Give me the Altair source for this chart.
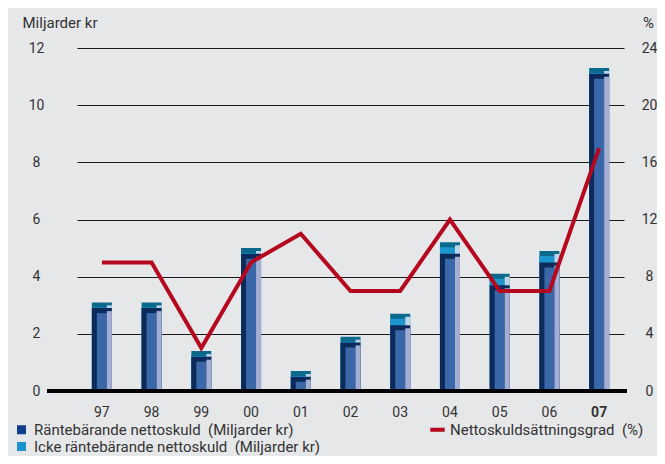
import altair as alt
import pandas as pd

years = ["97", "98", "99", "00", "01", "02", "03", "04", "05", "06", "07"]
rante = [2.9, 2.9, 1.2, 4.8, 0.5, 1.7, 2.3, 4.8, 3.7, 4.5, 11.1]
icke = [0.2, 0.2, 0.2, 0.2, 0.2, 0.2, 0.4, 0.4, 0.4, 0.4, 0.2]
netto = [9, 9, 3, 9, 11, 7, 7, 12, 7, 7, 17]

left_ticks = [0, 2, 4, 6, 8, 10, 12]
right_ticks = [0, 4, 8, 12, 16, 20, 24]

series_names = [
    "Räntebärande nettoskuld\u00a0 (Miljarder kr)",
    "Icke räntebärande nettoskuld\u00a0 (Miljarder kr)",
    "Nettoskuldsättningsgrad\u00a0 (%)",
]
series_colors = ["#0d3f8a", "#1a95cb", "#b5081f"]

FONT = "Roboto"
TXT = "#333333"
D = 0.175  # 3D top-face depth in data units

df = pd.DataFrame({"year": years, "rante": rante, "icke": icke, "netto": netto})

base = alt.Chart(df).transform_calculate(
    total="datum.rante + datum.icke",
    total_front=f"datum.rante + datum.icke - {D}",
    total_side=f"datum.rante + datum.icke - {D * 0.6}",
    rante_front=f"datum.rante - {D}",
    rante_side=f"datum.rante - {D * 0.6}",
)

xenc = alt.X(
    "year:N",
    sort=years,
    scale=alt.Scale(domain=years, range=[30, 577], paddingInner=0, paddingOuter=0),
    axis=alt.Axis(
        title=None, domain=False, ticks=False, tickSize=0, labelPadding=14,
        labelFont=FONT, labelFontSize=14, labelColor=TXT, labelAngle=0,
        labelFontWeight={"condition": {"test": "datum.value == '07'", "value": "bold"}, "value": "normal"},
    ),
)


def yscale():
    return alt.Scale(domain=[0, 12], nice=False, zero=True)


left_axis = alt.Axis(
    values=left_ticks, grid=True, gridColor="#1a1a1a", gridWidth=1, gridOpacity=1,
    domain=False, ticks=False, tickSize=0, labelPadding=11, labelAlign="center",
    labelFont=FONT, labelFontSize=14, labelColor=TXT,
    title="Miljarder kr", titleAngle=0, titleAlign="left", titleBaseline="alphabetic",
    titleX=-25, titleY=-21, titleFont=FONT, titleFontSize=15, titleFontWeight="normal", titleColor=TXT,
)


def bar(field, color, size, xoff, axis=None):
    return base.mark_bar(size=size, color=color, xOffset=xoff).encode(
        x=xenc, y=alt.Y(f"{field}:Q", scale=yscale(), axis=axis)
    )


zero_rule = base.mark_rule(color="black", strokeWidth=4).encode(
    y=alt.YDatum(datum=0, scale=yscale(), axis=None)
)

line = base.mark_line(color="#b5081f", strokeWidth=4, strokeJoin="miter").encode(
    x=xenc,
    y=alt.Y(
        "netto:Q",
        scale=alt.Scale(domain=[0, 24], nice=False),
        axis=alt.Axis(
            orient="right", values=right_ticks, grid=False, domain=False, ticks=False, tickSize=0,
            labelPadding=22, labelAlign="center", labelFont=FONT, labelFontSize=14, labelColor=TXT,
            title="%", titleAngle=0, titleAlign="center", titleBaseline="alphabetic",
            titleX=21, titleY=-21, titleFont=FONT, titleFontSize=15, titleFontWeight="normal", titleColor=TXT,
        ),
    ),
)

legend_layer = alt.Chart(pd.DataFrame({"series": series_names})).transform_filter(
    "false"
).mark_point(filled=True, opacity=1).encode(
    color=alt.Color(
        "series:N",
        scale=alt.Scale(domain=series_names, range=series_colors),
        legend=alt.Legend(
            title=None, orient="none", legendX=-33, legendY=374, columns=2,
            columnPadding=109, rowPadding=1, symbolSize=81, symbolOpacity=1,
            symbolStrokeWidth=0, labelOffset=5, labelFont=FONT, labelFontSize=15,
            labelColor=TXT, padding=0, labelLimit=0, direction="vertical",
        ),
    ),
    shape=alt.Shape(
        "series:N",
        scale=alt.Scale(domain=series_names, range=["square", "square", "M-1.6,-0.45H1.6V0.45H-1.6Z"]),
        legend=alt.Legend(title=None),
    ),
)

chart = alt.layer(
    bar("total", "#0b6a8c", 20, 0, left_axis),
    bar("total_front", "#1c96cc", 15, -2.5),
    bar("total_side", "#bdd6ea", 5, 7.5),
    bar("rante", "#0c2b5b", 20, 0),
    bar("rante_front", "#3967a8", 10, 0),
    bar("rante_side", "#a4aed5", 5, 7.5),
    zero_rule,
    line,
    legend_layer,
).resolve_scale(y="independent").properties(
    width=580,
    height=343,
    background="#e6e7e9",
    padding={"left": 39, "top": 40, "right": 30, "bottom": 65},
    autosize=alt.AutoSizeParams(type="none"),
).configure_view(stroke=None)

chart.save("out.html", embed_options={"renderer": "svg", "actions": False})
